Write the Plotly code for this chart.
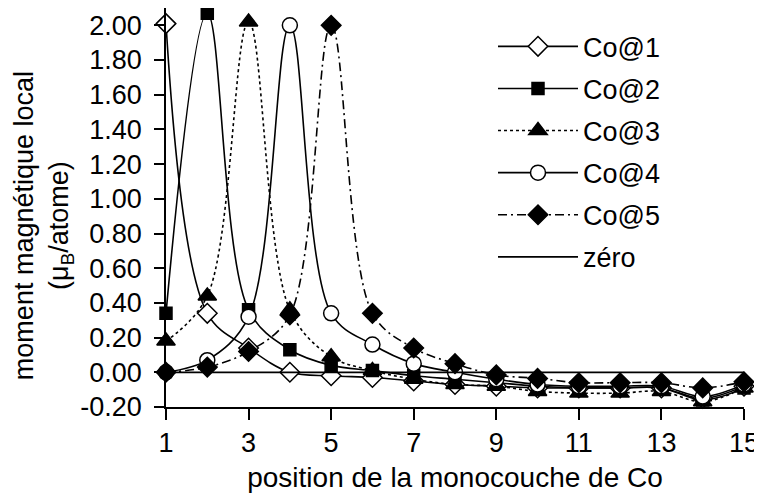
import plotly.graph_objects as go

positions = list(range(1, 16))
co1 = [2.01, 0.34, 0.14, 0.00, -0.02, -0.03, -0.05, -0.07, -0.08, -0.09, -0.09, -0.09, -0.09, -0.15, -0.08]
co2 = [0.34, 2.07, 0.36, 0.13, 0.04, 0.01, -0.02, -0.04, -0.06, -0.08, -0.09, -0.09, -0.09, -0.16, -0.09]
co3 = [0.18, 0.44, 2.02, 0.36, 0.09, 0.01, -0.04, -0.07, -0.08, -0.11, -0.12, -0.12, -0.11, -0.17, -0.09]
co4 = [0.00, 0.07, 0.32, 2.00, 0.34, 0.16, 0.05, 0.00, -0.04, -0.07, -0.08, -0.08, -0.08, -0.14, -0.07]
co5 = [0.00, 0.03, 0.12, 0.33, 2.00, 0.34, 0.14, 0.05, -0.015, -0.035, -0.06, -0.06, -0.06, -0.09, -0.055]
zero = [0.0] * 15

y_ticks = [-0.2, 0.0, 0.2, 0.4, 0.6, 0.8, 1.0, 1.2, 1.4, 1.6, 1.8, 2.0]
y_ticktext = ["-0.20", "0.00", "0.20", "0.40", "0.60", "0.80", "1.00", "1.20", "1.40", "1.60", "1.80", "2.00"]
x_ticks = [1, 3, 5, 7, 9, 11, 13, 15]

FONT = "Liberation Sans, Arial, sans-serif"
FS = 27

series = [
    ("Co@1", co1, "diamond", "white", 15, "solid"),
    ("Co@2", co2, "square", "black", 12, "solid"),
    ("Co@3", co3, "triangle-up", "black", 16, "dot"),
    ("Co@4", co4, "circle", "white", 15, "solid"),
    ("Co@5", co5, "diamond", "black", 15, "9px,4px,2px,4px"),
]

fig = go.Figure()
for i, (name, vals, sym, fill, size, dash) in enumerate(series):
    fig.add_trace(go.Scatter(
        x=positions, y=vals, name=name, mode="lines+markers",
        line=dict(color="black", width=1.6, dash=dash, shape="spline", smoothing=1.0),
        marker=dict(symbol=sym, size=size, color=fill, line=dict(color="black", width=1.5)),
        cliponaxis=False, legendgroup=name,
    ))
fig.add_trace(go.Scatter(
    x=positions, y=zero, name="zéro", mode="lines",
    line=dict(color="black", width=1.8), cliponaxis=False, legendgroup="zero",
))

fig.update_layout(
    width=762, height=501,
    margin=dict(l=158, r=26, t=0, b=102),
    paper_bgcolor="white", plot_bgcolor="white",
    font=dict(family=FONT, size=FS, color="black"),
    showlegend=True,
    legend=dict(
        x=(493 - 166) / 578, y=(407 - 22) / 399.3, xanchor="left", yanchor="top",
        bgcolor="rgba(0,0,0,0)", font=dict(size=FS),
        itemwidth=80, tracegroupgap=4,
    ),
    xaxis=dict(
        range=[1, 15], tickvals=x_ticks, showgrid=False, zeroline=False,
        showline=True, linecolor="black", linewidth=1.5,
        ticks="outside", ticklen=11, tickwidth=1.5, tickcolor="black",
        tickfont=dict(size=FS), ticklabelstandoff=0, automargin=False,
        title=dict(text="position de la monocouche de Co", font=dict(size=28), standoff=10),
    ),
    yaxis=dict(
        range=[-0.2, 2.1], tickvals=y_ticks, ticktext=y_ticktext, showgrid=False, zeroline=False,
        showline=True, linecolor="black", linewidth=1.5,
        ticks="outside", ticklen=10, tickwidth=1.5, tickcolor="black",
        tickfont=dict(size=FS), ticklabelstandoff=7, automargin=False,
    ),
    annotations=[dict(
        text="moment magnétique local<br>(μ<sub>B</sub>/atome)",
        xref="paper", yref="paper", x=(43 - 166) / 578, y=(407 - 225) / 399.3,
        xanchor="center", yanchor="middle", textangle=-90, showarrow=False,
        font=dict(size=FS, family=FONT),
    )],
)

fig.write_html("out.html")
